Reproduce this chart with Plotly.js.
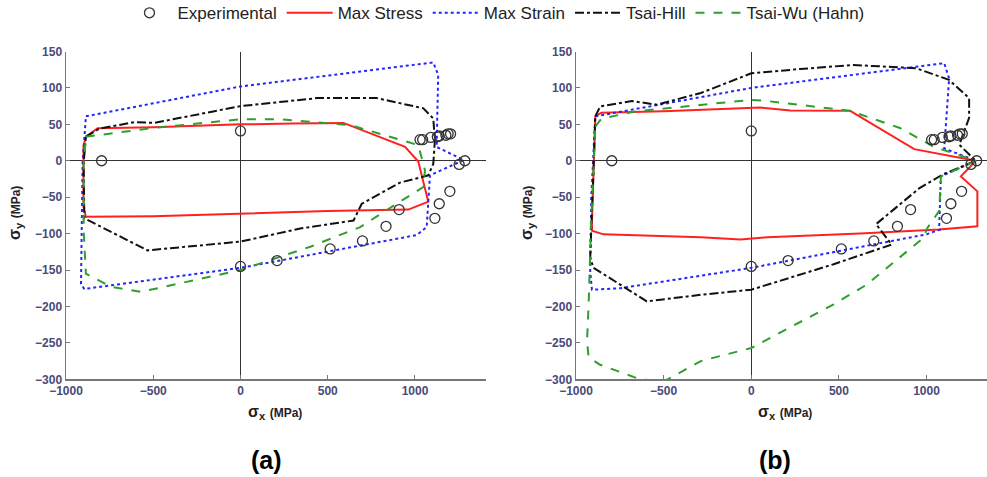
<!DOCTYPE html>
<html>
<head>
<meta charset="utf-8">
<script src="https://cdn.plot.ly/plotly-3.0.1.min.js"></script>
<style>html,body{margin:0;padding:0;background:#fff;}#chart{width:987px;height:477px;}</style>
</head>
<body>
<div id="chart"></div>
<script>
// ---- Experimental data (same in both panels) ----
const expX = [0, -796, 0, 210, 514, 699, 834, 909, 1114, 1139, 1200, 1253, 1286, 1029, 1044, 1090, 1128, 1139, 1177, 1190, 1204];
const expY = [41, 0, -145, -137, -121, -110, -90, -67, -79, -59, -42, -5, 0, 29, 29, 32, 33, 34, 35, 37, 37];

// ---- Panel (a) ----
const aStressX = [-886, -819, -500, 0, 300, 590, 943, 1019, 1076, 962, 500, 0, -500, -886, -900, -900, -886];
const aStressY = [33, 44.5, 46, 50, 51, 52, 19, -1, -56, -67, -69, -73, -76, -77, -63, 20, 33];
const aStrainX = [-886, 0, 1105, 1133, 1124, 1280, 1086, 1076, 1067, 1010, 0, -895, -914, -905, -886];
const aStrainY = [61, 102, 135, 118, 19, 1, -20, -60, -91, -102, -147, -176, -169, -4, 61];
const aHillX = [-886, -810, -610, -495, 0, 438, 781, 1048, 1105, 1114, 1105, 1076, 914, 695, 648, 343, 0, -533, -895, -899, -886];
const aHillY = [33, 44, 53, 52, 75, 86, 86, 72, 58, 28, -4, -20, -30, -59, -82, -93, -111, -123, -79, -4, 33];
const aWuX = [-886, -500, 0, 229, 629, 1019, 1057, 1048, 895, 686, 400, 0, -571, -743, -886, -899, -899, -886];
const aWuY = [33, 45, 57, 57, 49, 21.5, -13, -36, -59, -91, -118, -150, -180, -173, -155, -95, -4, 33];

// ---- Panel (b) ----
const bStressX = [-890, -856, -500, 0, 53, 223, 564, 617, 930, 1281, 1196, 1290, 1290, 1072, 621, 91, -61, -288, -843, -909, -909, -890];
const bStressY = [61, 66, 68, 73, 73, 69, 68.5, 61, 16, 0, -21.5, -42, -90, -94.5, -100, -105, -108, -105, -101, -96, -83, 61];
const bStrainX = [-890, 0, 1101, 1129, 1101, 1281, 1082, 1072, 1076, 1000, 0, -748, -909, -919, -913, -894, -890];
const bStrainY = [61, 100, 134, 113, 17, 0, -21.5, -92, -94.5, -101, -147, -175, -177, -152, -51, 40, 61];
const bHillX = [-890, -862, -681, -539, -288, 0, 280, 583, 940, 1129, 1243, 1243, 1187, 1281, 1091, 960, 712, 801, 470, 0, -288, -425, -596, -900, -919, -898, -890];
const bHillY = [61, 74.5, 82, 77, 93, 120, 126, 131.5, 127, 111, 86, 59, 22, 0, -19, -37.5, -87, -115, -142, -177, -184, -188, -193, -147, -133, 0, 61];
const bWuX = [-890, -856, -667, 0, 91, 564, 848, 1038, 1281, 1082, 1072, 1006, 981, 659, 470, 0, -288, -407, -500, -634, -862, -928, -937, -928, -913, -898, -890];
const bWuY = [47, 57.5, 67.6, 83.6, 82, 68.5, 45, 19.6, 0, -21.5, -69, -92, -106, -170, -197, -257, -275, -291, -303, -300, -280, -270, -248, -197, -79, -1, 47];

const RED = '#ff2020', BLUE = '#2424ff', BLACK = '#111111', GREEN = '#2e9e2e';
const TFONT = '"Liberation Sans", Arial, sans-serif';

function lineTrace(x, y, name, color, dash, ax, show, rank) {
  return {x: x, y: y, type: 'scatter', mode: 'lines', name: name,
          line: {color: color, dash: dash, width: 2},
          xaxis: ax[0], yaxis: ax[1], showlegend: show, legendrank: rank, hoverinfo: 'skip'};
}
function expTrace(ax, show) {
  return {x: expX, y: expY, type: 'scatter', mode: 'markers', name: 'Experimental',
          marker: {symbol: 'circle-open', size: 10, color: '#333', line: {width: 1.3, color: '#333'}},
          xaxis: ax[0], yaxis: ax[1], showlegend: show, legendrank: 1, hoverinfo: 'skip'};
}

const A = ['x', 'y'], B = ['x2', 'y2'];
const data = [
  lineTrace(aStressX, aStressY, 'Max Stress', RED, 'solid', A, true, 2),
  lineTrace(aStrainX, aStrainY, 'Max Strain', BLUE, 'dot', A, true, 3),
  lineTrace(aHillX, aHillY, 'Tsai-Hill', BLACK, 'dashdot', A, true, 4),
  lineTrace(aWuX, aWuY, 'Tsai-Wu (Hahn)', GREEN, 'dash', A, true, 5),
  expTrace(A, true),
  lineTrace(bStressX, bStressY, 'Max Stress', RED, 'solid', B, false, 2),
  lineTrace(bStrainX, bStrainY, 'Max Strain', BLUE, 'dot', B, false, 3),
  lineTrace(bHillX, bHillY, 'Tsai-Hill', BLACK, 'dashdot', B, false, 4),
  lineTrace(bWuX, bWuY, 'Tsai-Wu (Hahn)', GREEN, 'dash', B, false, 5),
  expTrace(B, false)
];

const tickFont = {family: TFONT, size: 12, color: '#4a4a78', weight: 'bold'};
function xax(domain, range, anchor) {
  return {domain: domain, range: range, anchor: anchor, tickvals: [-1000, -500, 0, 500, 1000],
          showline: true, linecolor: '#777', linewidth: 1.5, ticks: 'inside', ticklen: 4, tickcolor: '#777',
          showgrid: false, zeroline: true, zerolinecolor: '#333', zerolinewidth: 1.2,
          tickfont: tickFont, fixedrange: true, automargin: false};
}
function yax(anchor) {
  return {domain: [1 - 379.3 / 477, 1 - 51.5 / 477], range: [-300, 150], dtick: 50, anchor: anchor,
          showline: true, linecolor: '#777', linewidth: 1.5, ticks: 'inside', ticklen: 4, tickcolor: '#777',
          showgrid: false, zeroline: true, zerolinecolor: '#333', zerolinewidth: 1.2,
          tickfont: tickFont, fixedrange: true, automargin: false};
}

const titleFont = {family: TFONT, size: 16, color: '#222', weight: 'bold'};
const xTitle = '<b>σ<sub>x</sub> <span style="font-size:12px">(MPa)</span></b>';
const yTitle = '<b>σ<sub>y</sub> <span style="font-size:12px">(MPa)</span></b>';

function ann(text, px, py, font, angle) {
  return {text: text, xref: 'paper', yref: 'paper', x: px / 987, y: 1 - py / 477,
          xanchor: 'center', yanchor: 'middle', showarrow: false, font: font, textangle: angle || 0};
}
const panelFont = {family: TFONT, size: 25, color: '#000'};

const layout = {
  width: 987, height: 477,
  margin: {l: 0, r: 0, t: 0, b: 0, pad: 0, autoexpand: false},
  paper_bgcolor: '#fff', plot_bgcolor: '#fff',
  showlegend: true,
  legend: {orientation: 'h', x: 0.502, xanchor: 'center', y: 1.01, yanchor: 'top',
           font: {family: TFONT, size: 17, color: '#222'}, tracegroupgap: 0,
           itemwidth: 46, bgcolor: 'rgba(0,0,0,0)'},
  xaxis: xax([66 / 987, 486 / 987], [-1000, 1407], 'y'),
  yaxis: yax('x'),
  xaxis2: xax([576 / 987, 1], [-1000, 1345], 'y2'),
  yaxis2: yax('x2'),
  annotations: [
    ann(xTitle, 275, 412, titleFont),
    ann(xTitle, 785, 412, titleFont),
    ann(yTitle, 15, 213, titleFont, -90),
    ann(yTitle, 527, 213, titleFont, -90),
    ann('<b>(a)</b>', 266, 460, panelFont),
    ann('<b>(b)</b>', 775, 460, panelFont)
  ]
};

Plotly.newPlot('chart', data, layout, {staticPlot: true, displayModeBar: false});
</script>
</body>
</html>
